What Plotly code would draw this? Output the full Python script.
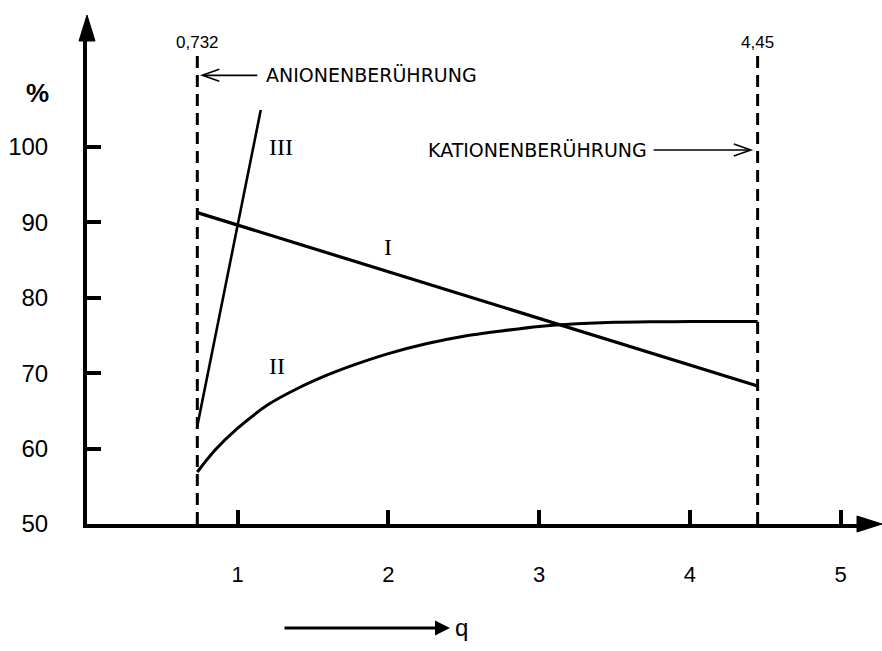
import plotly.graph_objects as go

# Quotient q and percentage values of the three curves
q_I = [0.732, 4.45]
pct_I = [91.3, 68.3]

q_II = [0.732, 0.85, 1.0, 1.2, 1.4, 1.6, 1.8, 2.0, 2.25, 2.5, 2.75, 3.0, 3.25, 3.5, 3.75, 4.0, 4.45]
pct_II = [56.9, 59.8, 62.7, 65.8, 68.0, 69.8, 71.3, 72.6, 73.9, 74.9, 75.6, 76.2, 76.55, 76.75,
          76.82, 76.85, 76.85]

q_III = [0.732, 1.153]
pct_III = [63.0, 104.9]

# Limits of the valid range
q_limits = [0.732, 4.45]
limit_labels = ["0,732", "4,45"]

x_ticks = [1, 2, 3, 4, 5]
x_ticktext = ["1", "2", "3", "4", "5"]
y_ticks = [50, 60, 70, 80, 90, 100]
y_ticktext = ["50", "60", "70", "80", "90", "100"]

W, H = 882, 651
ML, MR, MT, MB = 87, 20, 36, 127
PLOT_W = W - ML - MR
PLOT_H = H - MT - MB
PX_PER_Q = 150.7
PX_PER_PCT = 7.54
x_max = PLOT_W / PX_PER_Q
y_max = 50 + PLOT_H / PX_PER_PCT


def px_to_paper(px, py):
    """Convert a page position in pixels to paper coordinates."""
    return (px - ML) / PLOT_W, (H - MB - py) / PLOT_H


SANS = "Liberation Sans, Arial, sans-serif"
LETTER = "DejaVu Sans, Liberation Sans, sans-serif"
SERIF = "Liberation Serif, Times New Roman, serif"

fig = go.Figure()

fig.add_trace(go.Scatter(x=q_I, y=pct_I, mode="lines",
                         line=dict(color="black", width=3.2), hoverinfo="skip"))
fig.add_trace(go.Scatter(x=q_II, y=pct_II, mode="lines",
                         line=dict(color="black", width=3, shape="spline", smoothing=0.8),
                         hoverinfo="skip"))
fig.add_trace(go.Scatter(x=q_III, y=pct_III, mode="lines",
                         line=dict(color="black", width=2.6), hoverinfo="skip"))

shapes = []
# dashed limit lines
for q in q_limits:
    shapes.append(dict(type="line", xref="x", yref="y", x0=q, x1=q, y0=50, y1=112.5,
                       line=dict(color="black", width=3, dash="12px,7px")))

# arrowheads at the ends of the axes
shapes.append(dict(type="path", xref="paper", yref="paper",
                   xsizemode="pixel", ysizemode="pixel", xanchor=0, yanchor=1,
                   path="M -8,-5 L 0,21 L 8,-5 Z",
                   fillcolor="black", line=dict(color="black", width=1)))
shapes.append(dict(type="path", xref="paper", yref="paper",
                   xsizemode="pixel", ysizemode="pixel", xanchor=1, yanchor=0,
                   path="M -5,8 L 20,0 L -5,-8 Z",
                   fillcolor="black", line=dict(color="black", width=1)))

# open arrowheads pointing at the limit lines
shapes.append(dict(type="path", xref="x", yref="y",
                   xsizemode="pixel", ysizemode="pixel", xanchor=0.765, yanchor=109.5,
                   path="M 17,6 L 0,0 L 17,-6",
                   line=dict(color="black", width=1.6)))
shapes.append(dict(type="path", xref="x", yref="y",
                   xsizemode="pixel", ysizemode="pixel", xanchor=4.405, yanchor=99.6,
                   path="M -17,6 L 0,0 L -17,-6",
                   line=dict(color="black", width=1.6)))
# arrow shafts
shapes.append(dict(type="line", xref="x", yref="y", x0=0.77, x1=1.13, y0=109.5, y1=109.5,
                   line=dict(color="black", width=1.6)))
shapes.append(dict(type="line", xref="x", yref="y", x0=3.76, x1=4.40, y0=99.6, y1=99.6,
                   line=dict(color="black", width=1.6)))

annotations = []
for q, lab in zip(q_limits, limit_labels):
    annotations.append(dict(x=q, y=113.9, xref="x", yref="y", text=lab, showarrow=False,
                            font=dict(family=SANS, size=17, color="black")))

pct_x, pct_y = px_to_paper(38, 93)
qarrow_x, qarrow_y = px_to_paper(450, 628)
qlab_x, qlab_y = px_to_paper(453, 627)

annotations += [
    dict(x=1.175, y=109.5, xref="x", yref="y", text="ANIONENBERÜHRUNG", showarrow=False,
         xanchor="left", font=dict(family=LETTER, size=19, color="black")),
    dict(x=3.73, y=99.6, xref="x", yref="y", text="KATIONENBERÜHRUNG", showarrow=False,
         xanchor="right", font=dict(family=LETTER, size=19, color="black")),
    dict(x=2.0, y=86.7, xref="x", yref="y", text="I", showarrow=False,
         font=dict(family=SERIF, size=24, color="black")),
    dict(x=1.26, y=70.9, xref="x", yref="y", text="II", showarrow=False,
         font=dict(family=SERIF, size=24, color="black")),
    dict(x=1.285, y=100.0, xref="x", yref="y", text="III", showarrow=False,
         font=dict(family=SERIF, size=24, color="black")),
    dict(x=pct_x, y=pct_y, xref="paper", yref="paper", text="%", showarrow=False,
         xanchor="center", yanchor="middle",
         font=dict(family=SANS, size=26, color="black", weight="bold")),
    # axis title with its arrow
    dict(x=qarrow_x, y=qarrow_y, xref="paper", yref="paper", text="", showarrow=True,
         ax=-167, ay=0, arrowhead=2, arrowsize=1.0, arrowwidth=3, arrowcolor="black"),
    dict(x=qlab_x, y=qlab_y, xref="paper", yref="paper", text="q", showarrow=False,
         xanchor="left", yanchor="middle",
         font=dict(family=SANS, size=24, color="black")),
]

fig.update_layout(
    width=W, height=H,
    margin=dict(l=ML, r=MR, t=MT, b=MB, autoexpand=False),
    paper_bgcolor="white", plot_bgcolor="white",
    showlegend=False,
    shapes=shapes,
    annotations=annotations,
    xaxis=dict(range=[0, x_max], showgrid=False, zeroline=False, automargin=False,
               showline=True, linecolor="black", linewidth=4,
               ticks="inside", ticklen=14, tickwidth=4, tickcolor="black",
               tickvals=x_ticks, ticktext=x_ticktext, ticklabelstandoff=28,
               tickfont=dict(family=SANS, size=22, color="black")),
    yaxis=dict(range=[50, y_max], showgrid=False, zeroline=False, automargin=False,
               showline=True, linecolor="black", linewidth=4,
               ticks="inside", ticklen=14, tickwidth=4, tickcolor="black",
               tickvals=y_ticks, ticktext=y_ticktext, ticklabelstandoff=30,
               tickfont=dict(family=SANS, size=24, color="black")),
)

fig.write_html("out.html")
